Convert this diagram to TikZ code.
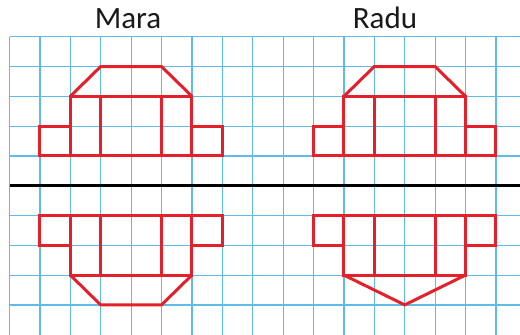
\documentclass[tikz,border=0pt]{standalone}
\usepackage{fontspec}
\setmainfont{Carlito}
\definecolor{gridblue}{RGB}{95,188,232}
\definecolor{shapered}{RGB}{228,32,42}
\begin{document}
\begin{tikzpicture}[x=1pt,y=-1pt,
  gridline/.style={draw=gridblue,line width=1.2pt},
  axisline/.style={draw=black,line width=3.3pt},
  redshape/.style={draw=shapered,line width=3pt,line join=miter},
  title/.style={anchor=base,font=\fontsize{31}{31}\selectfont,text=black!90,inner sep=0pt}]
\useasboundingbox (0,0) rectangle (520,335);
\clip (0,0) rectangle (520,335);
\fill[white] (0,0) rectangle (520,335);
\node[title] (mara) at (128,28.3) {Mara};
\node[title] (radu) at (385,28.3) {Radu};
\begin{scope}[shift={(9.5,36.7)},x=30.4pt,y=-29.8pt]
  \foreach \k in {0,...,16} \draw[gridline] (\k,0) -- (\k,10.2);
  \foreach \j in {0,...,9} \draw[gridline] (0,\j) -- (16.8,\j);
  \draw[axisline] (0,5) -- (16.8,5);
  % Mara top
  \draw[redshape] (1,3) rectangle (2,4);
  \draw[redshape] (6,3) rectangle (7,4);
  \draw[redshape] (2,2) rectangle (6,4);
  \draw[redshape] (3,2) -- (3,4) (5,2) -- (5,4);
  \draw[redshape] (2,2) -- (3,1) -- (5,1) -- (6,2);
  % Radu top
  \draw[redshape] (10,3) rectangle (11,4);
  \draw[redshape] (15,3) rectangle (16,4);
  \draw[redshape] (11,2) rectangle (15,4);
  \draw[redshape] (12,2) -- (12,4) (14,2) -- (14,4);
  \draw[redshape] (11,2) -- (12,1) -- (14,1) -- (15,2);
  % Mara bottom
  \draw[redshape] (1,6) rectangle (2,7);
  \draw[redshape] (6,6) rectangle (7,7);
  \draw[redshape] (2,6) rectangle (6,8);
  \draw[redshape] (3,6) -- (3,8) (5,6) -- (5,8);
  \draw[redshape] (2,8) -- (3,9) -- (5,9) -- (6,8);
  % Radu bottom
  \draw[redshape] (10,6) rectangle (11,7);
  \draw[redshape] (15,6) rectangle (16,7);
  \draw[redshape] (11,6) rectangle (15,8);
  \draw[redshape] (12,6) -- (12,8) (14,6) -- (14,8);
  \draw[redshape] (11,8) -- (13,9) -- (15,8);
\end{scope}
\end{tikzpicture}
\end{document}
